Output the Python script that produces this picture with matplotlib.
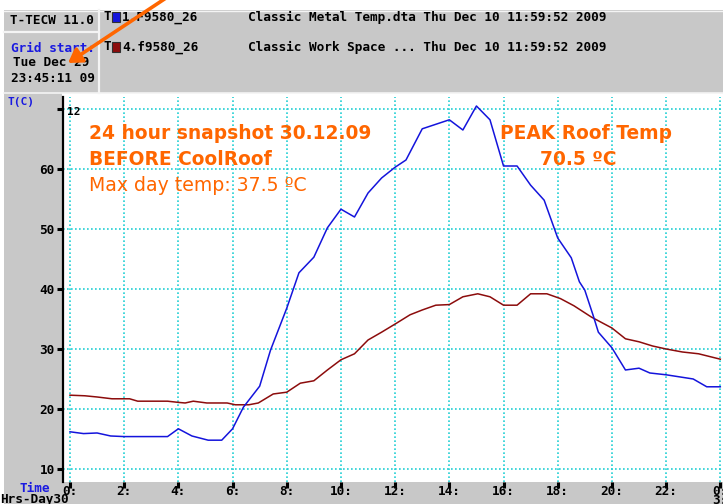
import matplotlib
matplotlib.use("Agg")
import matplotlib.pyplot as plt
from matplotlib.patches import Rectangle
from matplotlib.lines import Line2D

# ---------------- data ----------------
metal_hours = [0, 0.5, 1.0, 1.5, 2.0, 3.0, 3.6, 4.0, 4.5, 5.1, 5.6, 6.0, 6.4, 7.0, 7.4,
               8.0, 8.45, 9.0, 9.5, 10.0, 10.5, 11.0, 11.5, 12.0, 12.4, 13.0, 14.0,
               14.5, 15.0, 15.5, 16.0, 16.5, 17.0, 17.5, 18.0, 18.5, 18.8, 19.0, 19.3,
               19.5, 20.0, 20.5, 21.0, 21.4, 22.0, 23.0, 23.5, 24.0]
metal_temp = [16.2, 15.9, 16.0, 15.5, 15.4, 15.4, 15.4, 16.7, 15.5, 14.8, 14.8, 16.7, 20.3,
              23.8, 29.8, 36.8, 42.7, 45.3, 50.2, 53.3, 52.0, 56.0, 58.5, 60.3, 61.5,
              66.7, 68.2, 66.5, 70.5, 68.2, 60.5, 60.5, 57.3, 54.8, 48.5, 45.2, 41.2,
              39.8, 35.7, 32.8, 30.2, 26.5, 26.8, 26.0, 25.7, 25.0, 23.7, 23.7]

work_hours = [0, 0.55, 1.0, 1.55, 2.2, 2.5, 3.6, 4.0, 4.25, 4.55, 5.05, 5.8, 6.1, 6.6,
              6.95, 7.5, 8.0, 8.5, 9.0, 9.5, 10.0, 10.5, 11.0, 11.5, 12.05, 12.55, 13.0,
              13.5, 14.0, 14.5, 15.05, 15.5, 16.0, 16.5, 17.0, 17.6, 18.1, 18.6, 19.25,
              20.0, 20.5, 21.0, 21.5, 22.0, 22.6, 23.2, 24.0]
work_temp = [22.3, 22.2, 22.0, 21.7, 21.7, 21.3, 21.3, 21.1, 21.0, 21.3, 21.0, 21.0, 20.7,
             20.7, 21.0, 22.5, 22.8, 24.3, 24.7, 26.5, 28.2, 29.2, 31.5, 32.8, 34.3, 35.7,
             36.5, 37.3, 37.4, 38.7, 39.2, 38.7, 37.3, 37.3, 39.2, 39.2, 38.4, 37.2, 35.3,
             33.5, 31.7, 31.2, 30.5, 30.0, 29.5, 29.2, 28.3]

y_ticks = [10, 20, 30, 40, 50, 60, 70]
y_tick_labels = ["10", "20", "30", "40", "50", "60", ""]
x_ticks = [0, 2, 4, 6, 8, 10, 12, 14, 16, 18, 20, 22, 24]
x_tick_labels = ["0:", "2:", "4:", "6:", "8:", "10:", "12:", "14:", "16:", "18:", "20:", "22:", "0:"]

series1_label = "1.F9580_26"
series2_label = "4.f9580_26"
series1_desc = "Classic Metal Temp.dta Thu Dec 10 11:59:52 2009"
series2_desc = "Classic Work Space ... Thu Dec 10 11:59:52 2009"

# ---------------- figure ----------------
W, H = 723, 504
fig = plt.figure(figsize=(W / 100, H / 100), dpi=100, facecolor="white")

def fx(x):
    return x / W

def fy(y):
    return 1 - y / H

GRAY = "#c8c8c8"
MONO = dict(family="DejaVu Sans Mono", weight="bold", size=9.2)
ORANGE = "#ff6600"
BLUE = "#1414dc"
RED = "#8c0c0c"

def frect(x0, y0, x1, y1, color, z=0):
    fig.add_artist(Rectangle((fx(x0), fy(y1)), fx(x1) - fx(x0), fy(y0) - fy(y1),
                             transform=fig.transFigure, facecolor=color,
                             edgecolor="none", zorder=z))

def fline(x0, y0, x1, y1, color, lw, z=1):
    fig.add_artist(Line2D([fx(x0), fx(x1)], [fy(y0), fy(y1)], transform=fig.transFigure,
                          color=color, lw=lw, zorder=z))

# header panel
frect(4, 10, W, 93, GRAY)
fline(4, 32, 99, 32, "#f4f4f4", 1.6)
fline(99, 10, 99, 93, "#f4f4f4", 1.6)
fline(4, 10.5, W, 10.5, "#f4f4f4", 1.0)
fline(4, 93, W, 93, "#f4f4f4", 1.2)
# left gray column and bottom strip
frect(4, 93, 62, 504, GRAY)
frect(4, 482, W, 504, GRAY)

# header texts
fig.text(fx(10), fy(21), "T-TECW 11.0", va="center", ha="left", color="black", **MONO)
fig.text(fx(11), fy(49), "Grid start:", va="center", ha="left", color="#1a1ae0", **MONO)
fig.text(fx(13), fy(63), "Tue Dec 29", va="center", ha="left", color="black", **MONO)
fig.text(fx(11), fy(78), "23:45:11 09", va="center", ha="left", color="black", **MONO)

for yy, col, lab, desc in [(17, BLUE, series1_label, series1_desc),
                           (47, RED, series2_label, series2_desc)]:
    fig.text(fx(103), fy(yy), "T", va="center", ha="left", color="black", **MONO)
    fig.add_artist(Rectangle((fx(112), fy(yy + 4.5)), fx(8), 9 / H, transform=fig.transFigure,
                             facecolor=col, edgecolor="#303030", lw=0.8, zorder=2))
    fig.text(fx(122), fy(yy), lab, va="center", ha="left", color="black", **MONO)
    fig.text(fx(248), fy(yy), desc, va="center", ha="left", color="black", **MONO)

fig.text(fx(8), fy(102), "T(C)", va="center", ha="left", color="#1a1ae0",
         family="DejaVu Sans Mono", weight="bold", size=8)
fig.text(fx(20), fy(489), "Time", va="center", ha="left", color="#1a1ae0", **MONO)
fig.text(fx(0), fy(499), "Hrs-Day30", va="center", ha="left", color="black", **MONO)

# ---------------- main axes ----------------
ax = fig.add_axes([fx(63), fy(482), fx(W) - fx(63), fy(97) - fy(482)])
ax.set_facecolor("white")
ax.set_xlim(-0.258, 24.1)
ax.set_ylim(7.83, 72.0)

for s in ["top", "right", "bottom"]:
    ax.spines[s].set_visible(False)
ax.spines["left"].set_color("black")
ax.spines["left"].set_linewidth(1.6)

ax.set_xticks(x_ticks)
ax.set_xticklabels(x_tick_labels, fontfamily="DejaVu Sans Mono", fontweight="bold", fontsize=9.2)
ax.set_yticks(y_ticks)
ax.set_yticklabels(y_tick_labels, fontfamily="DejaVu Sans Mono", fontweight="bold", fontsize=9.2)
ax.tick_params(axis="y", direction="out", length=4.5, width=2.2, color="black", pad=1.5)
ax.tick_params(axis="x", direction="out", length=4.5, width=2.2, color="black", pad=-2)

ax.grid(True, color="#22d0d4", linestyle=(0, (1.0, 1.4)), linewidth=1.2)
ax.set_axisbelow(True)

ax.plot(work_hours, work_temp, color=RED, lw=1.1, zorder=3)
ax.plot(metal_hours, metal_temp, color=BLUE, lw=1.1, zorder=4)

# odd top label
ax.text(0.006, 69.5, "12", transform=ax.get_yaxis_transform(), va="center", ha="left",
        family="DejaVu Sans Mono", weight="bold", size=8)
# second-line label under the last tick (clipped at the edge)
ax.text(24, -(500 - 482) / 385, "3:", transform=ax.get_xaxis_transform(), va="center",
        ha="center", clip_on=False, **MONO)

# annotations
fig.text(fx(89), fy(139), "24 hour snapshot 30.12.09", color=ORANGE, weight="bold",
         size=13.4, family="DejaVu Sans", va="baseline", ha="left")
fig.text(fx(89), fy(165), "BEFORE CoolRoof", color=ORANGE, weight="bold",
         size=13.4, family="DejaVu Sans", va="baseline", ha="left")
fig.text(fx(89), fy(191), "Max day temp: 37.5 ºC", color=ORANGE, weight="normal",
         size=13.6, family="DejaVu Sans", va="baseline", ha="left")
fig.text(fx(586), fy(139), "PEAK Roof Temp", color=ORANGE, weight="bold",
         size=13.4, family="DejaVu Sans", va="baseline", ha="center")
fig.text(fx(578.5), fy(165), "70.5 ºC", color=ORANGE, weight="bold",
         size=13.4, family="DejaVu Sans", va="baseline", ha="center")

# orange arrow pointing to the grid start
fig.add_artist(matplotlib.patches.FancyArrowPatch(
    (fx(166), fy(-2)), (fx(68), fy(63)), transform=fig.transFigure,
    arrowstyle="-|>,head_length=8,head_width=5", color=ORANGE, lw=2.6, zorder=10,
    shrinkA=0, shrinkB=0))

fig.savefig("out.png", dpi=100, facecolor="white")
